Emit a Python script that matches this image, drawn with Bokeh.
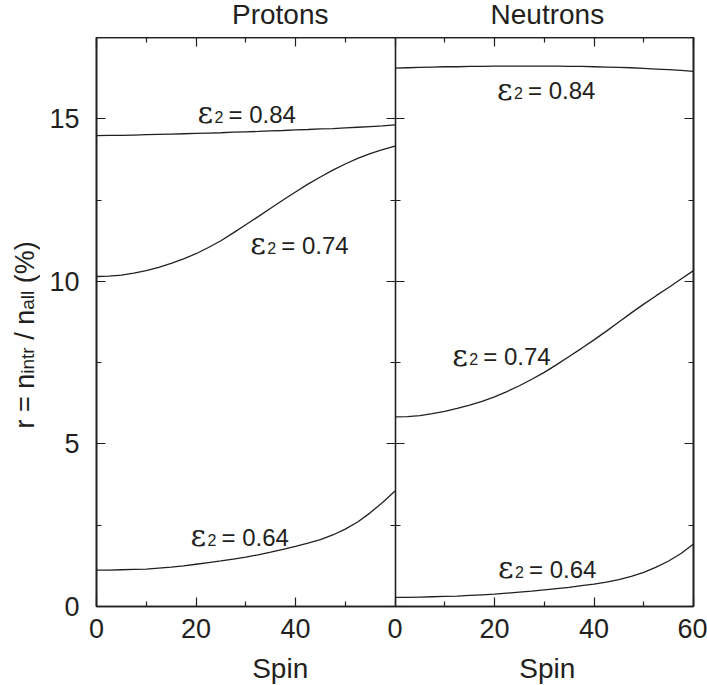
import math
from bokeh.plotting import figure
from bokeh.layouts import row, column
from bokeh.models import FixedTicker, Label, Range1d, LinearAxis
from bokeh.core.properties import value
from bokeh.embed import file_html
from bokeh.resources import INLINE

# ---------------- data ----------------
spin = [0, 2.5, 5, 7.5, 10, 12.5, 15, 17.5, 20, 22.5, 25, 27.5, 30,
        32.5, 35, 37.5, 40, 42.5, 45, 47.5, 50, 52.5, 55, 57.5, 60]

proton_084 = [14.48, 14.49, 14.49, 14.50, 14.51, 14.52, 14.53, 14.54, 14.55, 14.56, 14.57, 14.59, 14.60,
              14.61, 14.63, 14.64, 14.66, 14.67, 14.69, 14.70, 14.72, 14.74, 14.76, 14.78, 14.81]
proton_074 = [10.15, 10.16, 10.19, 10.25, 10.33, 10.43, 10.55, 10.69, 10.85, 11.04, 11.25, 11.49, 11.74,
              11.99, 12.25, 12.50, 12.75, 12.99, 13.21, 13.42, 13.61, 13.78, 13.93, 14.05, 14.16]
proton_064 = [1.12, 1.12, 1.13, 1.14, 1.15, 1.18, 1.21, 1.25, 1.30, 1.35, 1.40, 1.46, 1.52,
              1.59, 1.67, 1.76, 1.85, 1.95, 2.06, 2.20, 2.38, 2.60, 2.88, 3.20, 3.55]

neutron_084 = [16.56, 16.57, 16.58, 16.59, 16.60, 16.60, 16.61, 16.61, 16.62, 16.62, 16.62, 16.62, 16.62,
               16.62, 16.61, 16.61, 16.60, 16.59, 16.58, 16.57, 16.55, 16.53, 16.51, 16.49, 16.46]
neutron_074 = [5.83, 5.84, 5.87, 5.93, 6.00, 6.09, 6.19, 6.31, 6.45, 6.61, 6.79, 6.99, 7.20,
               7.44, 7.69, 7.94, 8.20, 8.47, 8.75, 9.03, 9.30, 9.56, 9.81, 10.07, 10.33]
neutron_064 = [0.28, 0.28, 0.29, 0.30, 0.31, 0.32, 0.34, 0.36, 0.38, 0.41, 0.44, 0.47, 0.51,
               0.55, 0.59, 0.64, 0.69, 0.75, 0.83, 0.93, 1.05, 1.21, 1.40, 1.63, 1.92]

panel_titles = ["Protons", "Neutrons"]
deformations = ["0.84", "0.74", "0.64"]
spin_max = 60
r_max = 17.5
x_major = [0, 20, 40, 60, 80, 100, 120]          # two panels of 0..60 side by side
x_minor = [10, 30, 50, 70, 90, 110]
x_tick_labels = {0: "0", 20: "20", 40: "40", 60: "0", 80: "20", 100: "40", 120: "60"}
y_major = [0, 5, 10, 15]
y_minor = [2.5, 7.5, 12.5, 17.5]
x_label = "Spin"

# label anchor positions (spin, r) for each curve label
proton_label_pos = [(20.3, 14.93), (30.9, 10.9), (18.9, 1.91)]
neutron_label_pos = [(20.5, 15.65), (11.5, 7.47), (20.7, 0.93)]

# ---------------- layout / style ----------------
FONT = "Liberation Sans"
INK = "#231f20"
W, H = 707, 685
YLAB_W = 40          # strip holding the y-axis title
TITLE_H = 37         # strip holding the panel titles
SPIN_H = 31          # strip holding the "Spin" titles
MAIN_W = W - YLAB_W
MAIN_H = H - TITLE_H - SPIN_H
BORDER_L, BORDER_R, BORDER_B = 56, 14, 48
FRAME_W = MAIN_W - BORDER_L - BORDER_R
BASE_K = 0.28        # baseline correction (fraction of font size)


def style_axis(ax, ticks, minor, show_labels, tick_out=0, minor_out=0):
    ax.ticker = FixedTicker(ticks=ticks, minor_ticks=minor)
    ax.major_tick_in = 9
    ax.major_tick_out = tick_out
    ax.minor_tick_in = 5
    ax.minor_tick_out = minor_out
    ax.axis_line_color = INK
    ax.axis_line_width = 1.6
    ax.major_tick_line_color = INK
    ax.major_tick_line_width = 1.2
    ax.minor_tick_line_color = INK
    ax.minor_tick_line_width = 1.2
    if show_labels:
        ax.major_label_text_font = FONT
        ax.major_label_text_font_size = "27px"
        ax.major_label_text_color = INK
    else:
        ax.major_label_text_font_size = "0px"
        ax.major_label_text_color = None
        ax.major_label_standoff = 0


def strip(width, height):
    s = figure(width=width, height=height, x_range=Range1d(0, width), y_range=Range1d(0, height),
               x_axis_type=None, y_axis_type=None, output_backend="svg", toolbar_location=None,
               min_border_left=0, min_border_right=0, min_border_top=0, min_border_bottom=0)
    s.outline_line_color = None
    s.background_fill_color = "white"
    s.border_fill_color = "white"
    return s


# ---------------- main plot ----------------
p = figure(width=MAIN_W, height=MAIN_H,
           x_range=Range1d(0, 2 * spin_max), y_range=Range1d(0, r_max),
           output_backend="svg", toolbar_location=None,
           min_border_left=BORDER_L, min_border_right=BORDER_R,
           min_border_top=0, min_border_bottom=BORDER_B)
p.extra_x_ranges = {"neutron": Range1d(-spin_max, spin_max)}
p.xgrid.visible = False
p.ygrid.visible = False
p.outline_line_color = INK
p.outline_line_width = 1.6
p.background_fill_color = "white"
p.border_fill_color = "white"

bx = p.xaxis[0]
style_axis(bx, x_major, x_minor, True)
bx.major_label_overrides = x_tick_labels
bx.major_label_standoff = 12

ly = p.yaxis[0]
style_axis(ly, y_major, y_minor, True)
ly.major_label_standoff = 17

tx = LinearAxis()
style_axis(tx, x_major, x_minor, False)
p.add_layout(tx, "above")
ry = LinearAxis()
style_axis(ry, y_major, y_minor, False)
p.add_layout(ry, "right")

# divider between the panels, ticks on both sides
mid = LinearAxis(fixed_location=spin_max)
style_axis(mid, y_major, y_minor, False, tick_out=9, minor_out=5)
p.add_layout(mid, "left")

for ys in (proton_084, proton_074, proton_064):
    p.line(spin, ys, line_color=INK, line_width=1.3)
for ys in (neutron_084, neutron_074, neutron_064):
    p.line(spin, ys, line_color=INK, line_width=1.3, x_range_name="neutron")


def add_curve_label(lx, lyv, d, rname):
    common = dict(x=lx, y=lyv, text_color=INK, text_align="left", text_baseline="alphabetic",
                  x_range_name=rname)
    p.add_layout(Label(text="\u03b5", y_offset=BASE_K * 30, text_font="DejaVu Serif",
                       text_font_size="30px", **common))
    p.add_layout(Label(text="2", x_offset=17, y_offset=BASE_K * 16, text_font=FONT,
                       text_font_size="16px", **common))
    p.add_layout(Label(text="= " + d, x_offset=31, y_offset=BASE_K * 24, text_font=FONT,
                       text_font_size="24px", **common))


for (lx, lyv), d in zip(proton_label_pos, deformations):
    add_curve_label(lx, lyv, d, "default")
for (lx, lyv), d in zip(neutron_label_pos, deformations):
    add_curve_label(lx, lyv, d, "neutron")

# ---------------- panel titles ----------------
panel_w = FRAME_W / 2.0
centers = [BORDER_L + panel_w / 2, BORDER_L + panel_w * 1.5]
top = strip(MAIN_W, TITLE_H)
ty = 15 + BASE_K * 28
top.text(x=centers, y=[ty, ty], text=panel_titles, text_font=value(FONT), text_font_size=value("28px"),
         text_color=INK, text_align="center", text_baseline="alphabetic")

bottom = strip(MAIN_W, SPIN_H)
sy = 9 + BASE_K * 28
bottom.text(x=centers, y=[sy, sy], text=[x_label, x_label], text_font=value(FONT),
            text_font_size=value("28px"), text_color=INK, text_align="center",
            text_baseline="alphabetic")

# ---------------- y-axis title with subscripts ----------------
ylab = strip(YLAB_W, H)
big, small = 27, 19


def w(units, size):
    return units * size / 2048.0


pieces = [("r = n", big, 0.0)]
off = w(682 + 569 + 1196 + 569 + 1139, big)
pieces.append(("intr", small, off))
off += w(455 + 1139 + 569 + 682, small)
pieces.append(("/ n", big, off + w(569, big)))
off += w(569 + 569 + 569 + 1139, big)
pieces.append(("all", small, off))
off += w(1139 + 455 + 455, small)
pieces.append(("(%)", big, off + w(569, big)))

y0 = 257
for txt, size, o in pieces:
    ylab.text(x=[32 - BASE_K * size], y=[y0 + o], text=[txt], angle=math.pi / 2, text_font=value(FONT),
              text_font_size=value(f"{size}px"), text_color=INK, text_align="left",
              text_baseline="alphabetic")

layout = row(ylab, column(top, p, bottom))
open("out.html", "w").write(file_html(layout, INLINE))
